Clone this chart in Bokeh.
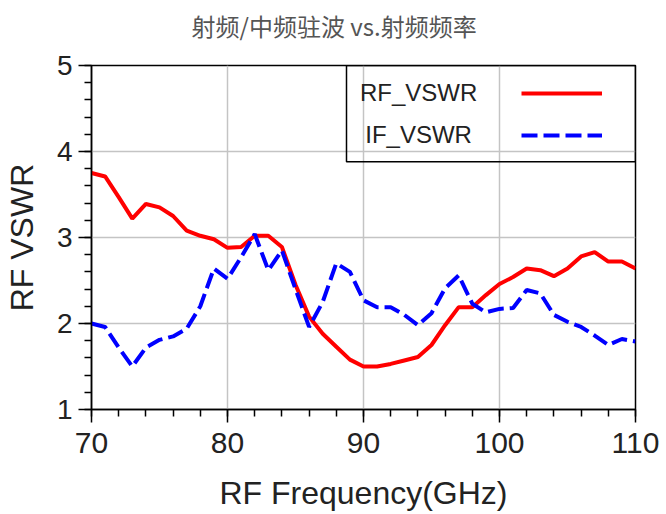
from bokeh.plotting import figure
from bokeh.models import (Range1d, SingleIntervalTicker, Legend, LegendItem,
                          BoxAnnotation, Label, Title)
from bokeh.embed import file_html
from bokeh.resources import INLINE

# ---- data ----
freq_ghz = [70, 71, 72, 73, 74, 75, 76, 77, 78, 79, 80, 81, 82, 83, 84, 85, 86, 87, 88, 89, 90,
            91, 92, 93, 94, 95, 96, 97, 98, 99, 100, 101, 102, 103, 104, 105, 106, 107, 108, 109, 110]
rf_vswr = [3.75, 3.71, 3.47, 3.22, 3.39, 3.35, 3.25, 3.08, 3.02, 2.98, 2.88, 2.89, 3.02, 3.02, 2.89,
           2.45, 2.08, 1.88, 1.73, 1.58, 1.50, 1.50, 1.53, 1.57, 1.61, 1.75, 1.98, 2.19, 2.19, 2.33,
           2.46, 2.54, 2.64, 2.62, 2.55, 2.64, 2.78, 2.83, 2.72, 2.72, 2.64]
if_vswr = [2.00, 1.96, 1.72, 1.50, 1.72, 1.81, 1.85, 1.94, 2.20, 2.64, 2.52, 2.77, 3.04, 2.62, 2.85,
           2.40, 1.96, 2.25, 2.70, 2.60, 2.27, 2.19, 2.19, 2.10, 1.98, 2.12, 2.41, 2.56, 2.23, 2.13,
           2.17, 2.18, 2.39, 2.35, 2.10, 2.02, 1.96, 1.86, 1.75, 1.82, 1.79]
series_names = ["RF_VSWR", "IF_VSWR"]
title_text = "射频/中频驻波 vs.射频频率"
x_label = "RF Frequency(GHz)"
y_label = "RF VSWR"

FONT = "Liberation Sans"

p = figure(width=660, height=512, frame_width=544, frame_height=344,
           x_range=Range1d(70, 110), y_range=Range1d(1, 5),
           output_backend="svg", toolbar_location=None,
           min_border_left=91, min_border_top=65, min_border_right=25, min_border_bottom=103)

# spacer between frame and title (added first -> nearest the frame)
p.add_layout(Title(text=" ", text_font_size="1px", standoff=20), "above")
# the chart title
p.add_layout(Title(text=title_text, text_font="Noto Sans CJK SC", text_font_size="24px",
                   text_font_style="normal", text_color="#555555",
                   align="left", offset=100, standoff=0, vertical_align="bottom"), "above")

p.outline_line_color = "black"
p.outline_line_width = 1.5
p.background_fill_color = "white"
p.border_fill_color = "white"

for ax in (p.xaxis[0], p.yaxis[0]):
    ax.axis_line_color = "black"
    ax.axis_line_width = 1.5
    ax.major_tick_line_color = "black"
    ax.major_tick_line_width = 1.5
    ax.minor_tick_line_color = "black"
    ax.minor_tick_line_width = 1.5
    ax.major_tick_in = 0
    ax.major_tick_out = 13
    ax.minor_tick_in = 0
    ax.minor_tick_out = 7
    ax.major_label_text_font = FONT
    ax.major_label_text_color = "#222222"
    ax.axis_label_text_font = FONT
    ax.axis_label_text_font_style = "normal"
    ax.axis_label_text_color = "#222222"

p.xaxis.ticker = SingleIntervalTicker(interval=10, num_minor_ticks=5)
p.yaxis.ticker = SingleIntervalTicker(interval=1, num_minor_ticks=5)
p.xaxis.major_label_text_font_size = "30px"
p.yaxis.major_label_text_font_size = "28px"
p.xaxis.major_label_standoff = 10
p.yaxis.major_label_standoff = 6
p.xaxis.axis_label = x_label
p.yaxis.axis_label = y_label
p.xaxis.axis_label_text_font_size = "32px"
p.yaxis.axis_label_text_font_size = "32px"
p.xaxis.axis_label_standoff = 19
p.yaxis.axis_label_standoff = 14

p.grid.grid_line_color = "#c4c4c4"
p.grid.grid_line_width = 1.5

r_rf = p.line(freq_ghz, rf_vswr, line_color="#ff0000", line_width=4)
r_if = p.line(freq_ghz, if_vswr, line_color="#0000ff", line_width=4, line_dash="16 6")

# legend box (labels left, samples right)
box = BoxAnnotation(left=88.75, right=110, top=5, bottom=3.88,
                    fill_alpha=0, line_color="black", line_alpha=1, line_width=1.5,
                    level="overlay")
p.add_layout(box)
for name, yv in zip(series_names, [4.69, 4.20]):
    p.add_layout(Label(x=94.05, y=yv, text=name, text_align="center", text_baseline="middle",
                       text_font=FONT, text_font_size="24px", text_color="#222222"))

leg = Legend(items=[LegendItem(label=" ", renderers=[r_rf]),
                    LegendItem(label=" ", renderers=[r_if])],
             location=(430, 264), orientation="vertical",
             glyph_width=81, glyph_height=20, label_width=0, label_standoff=0,
             label_height=20, spacing=22, padding=0, margin=0,
             border_line_alpha=0, background_fill_alpha=0,
             label_text_font_size="1px")
p.add_layout(leg)

open("out.html", "w").write(file_html(p, INLINE))
